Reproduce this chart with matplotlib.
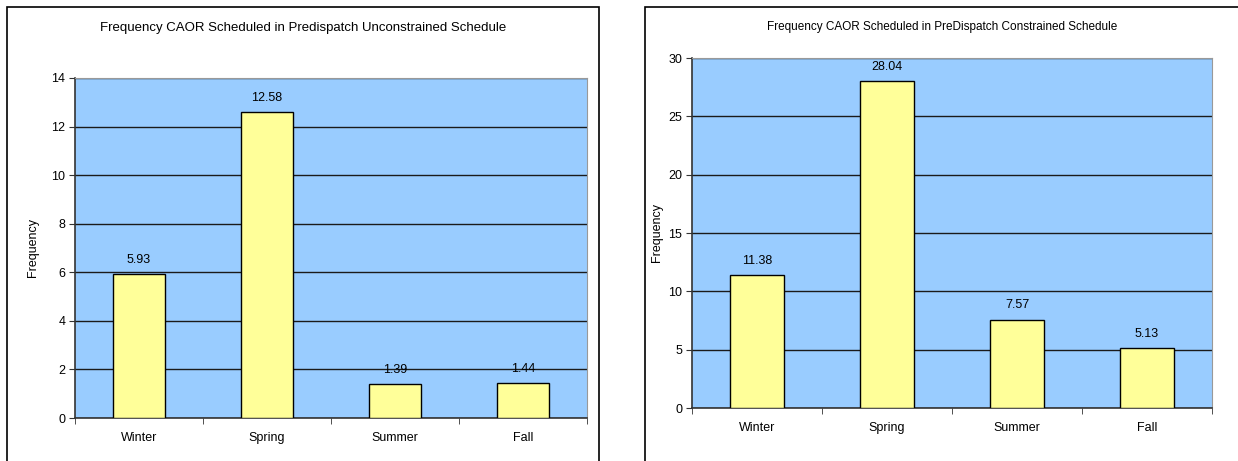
import numpy as np
import matplotlib.pyplot as plt
from matplotlib.patches import Rectangle

plt.rcParams['font.family'] = ['Liberation Sans', 'DejaVu Sans']

seasons = ['Winter', 'Spring', 'Summer', 'Fall']
unconstrained = [5.93, 12.58, 1.39, 1.44]
constrained = [11.38, 28.04, 7.57, 5.13]

W, H = 1238, 461
fig = plt.figure(figsize=(W / 100, H / 100), dpi=100)


def px_axes(x0, y0, x1, y1):
    # pixel box (top-left origin) -> figure axes
    return fig.add_axes([x0 / W, 1 - y1 / H, (x1 - x0) / W, (y1 - y0) / H])


def draw_chart(ax, values, ymax, ystep, label_off):
    x = np.arange(len(values))
    ax.set_facecolor('#99CCFF')
    ax.set_axisbelow(True)
    ax.yaxis.grid(True, color='#1a1a1a', lw=1)
    ax.bar(x, values, width=0.41, color='#FFFF99', edgecolor='black', lw=1, zorder=3)
    for xi, v in zip(x, values):
        ax.annotate(f'{v:.2f}', (xi, v), xytext=(0, label_off), textcoords='offset points',
                    ha='center', va='bottom', fontsize=9)
    ax.set_xlim(-0.5, len(values) - 0.5)
    ax.set_ylim(0, ymax)
    ax.set_yticks(np.arange(0, ymax + 0.1, ystep))
    ax.set_xticks(x)
    ax.set_xticklabels(seasons, fontsize=9)
    ax.set_xticks(np.arange(-0.5, len(values)), minor=True)
    ax.tick_params(axis='x', which='major', length=0, pad=10)
    ax.tick_params(axis='x', which='minor', length=4, direction='out', color='#333333')
    ax.tick_params(axis='y', length=4, direction='out', color='#333333', labelsize=9, pad=3)
    for s in ['top', 'right']:
        ax.spines[s].set_color('#999999')
    for s in ['left', 'bottom']:
        ax.spines[s].set_color('#333333')
        ax.spines[s].set_linewidth(1.2)


# chart borders
fig.patches.append(Rectangle((7 / W, -0.1), 592 / W, 1 - 7 / H + 0.1, transform=fig.transFigure,
                             fill=False, edgecolor='black', lw=1.2))
fig.patches.append(Rectangle((645 / W, -0.1), 620 / W, 1 - 7 / H + 0.1, transform=fig.transFigure,
                             fill=False, edgecolor='black', lw=1.2))

ax1 = px_axes(75, 78, 587, 418)
draw_chart(ax1, unconstrained, 14, 2, 6)
fig.text(303 / W, 1 - 28 / H, 'Frequency CAOR Scheduled in Predispatch Unconstrained Schedule',
         ha='center', va='center', fontsize=9.5)
fig.text(33 / W, 1 - 247 / H, 'Frequency', rotation=90, ha='center', va='center', fontsize=9)

ax2 = px_axes(692, 58, 1212, 408)
draw_chart(ax2, constrained, 30, 5, 6)
fig.text(942 / W, 1 - 27 / H, 'Frequency CAOR Scheduled in PreDispatch Constrained Schedule',
         ha='center', va='center', fontsize=8.5)
fig.text(657 / W, 1 - 232 / H, 'Frequency', rotation=90, ha='center', va='center', fontsize=9)

fig.savefig('out.png', dpi=100)
